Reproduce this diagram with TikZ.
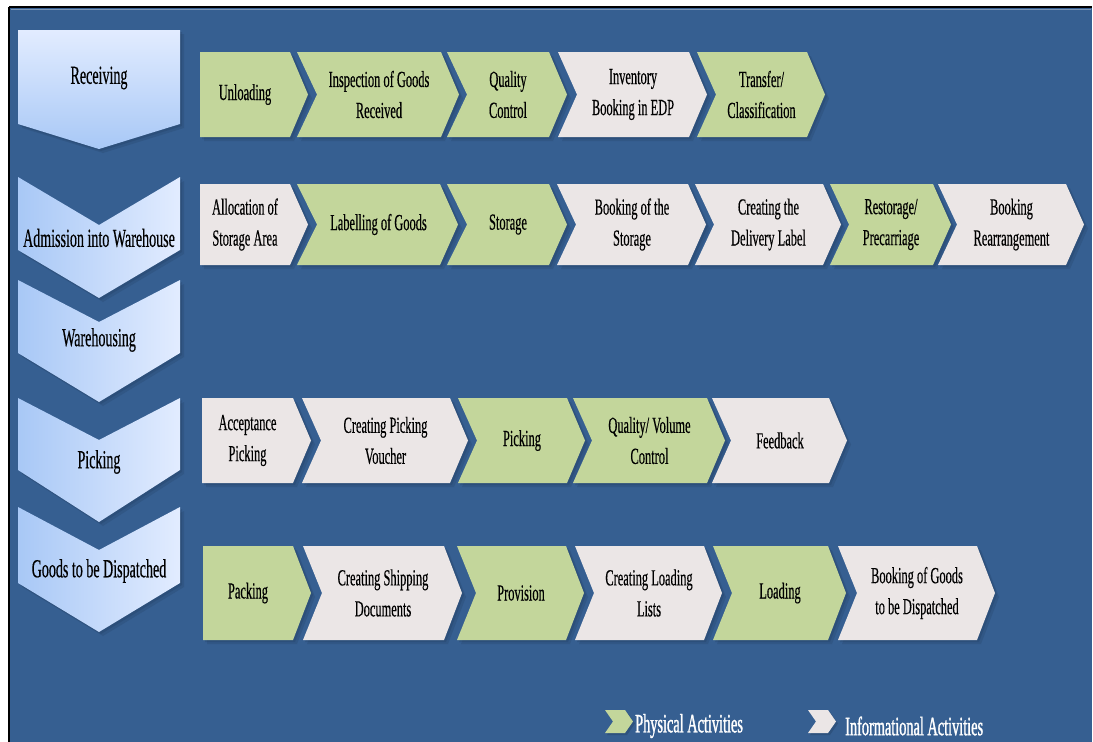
\documentclass[tikz,border=0pt]{standalone}
\usepackage{fontspec}
\setmainfont{Liberation Serif}[FakeStretch=0.54,FakeBold=0.35]
\newfontfamily\legendfont{Liberation Serif}[FakeStretch=0.54,FakeBold=1.1]

\definecolor{panelblue}{RGB}{54,95,145}
\definecolor{physgreen}{RGB}{195,214,155}
\definecolor{infogray}{RGB}{235,230,230}
\definecolor{stageleft}{RGB}{168,200,246}
\definecolor{stageright}{RGB}{226,236,255}
\definecolor{shadowblue}{RGB}{28,52,84}

\tikzset{
  rowtext/.style={inner sep=0pt, align=center, text=black,
    font=\fontsize{23}{31}\selectfont},
  stagetext/.style={inner sep=0pt, align=center, text=black,
    font=\fontsize{26}{31}\selectfont},
  legendtext/.style={inner sep=0pt, anchor=west, text=white,
    font=\legendfont\fontsize{26.5}{28}\selectfont},
  stagefill/.style={left color=stageleft, right color=stageright},
}

% Horizontal activity chevron:
% #1 node name, #2 fill colour, #3 left x, #4 right x of flat part,
% #5 top y, #6 bottom y, #7 notch depth (0 = flat back), #8 label
\newcommand\activity[8]{%
  \pgfmathsetmacro\actmid{(#5+#6)/2}%
  \pgfmathsetmacro\acttip{#4+18}%
  \pgfmathsetmacro\actnotch{#3+#7}%
  \pgfmathsetmacro\actcx{(#3+#7+#4)/2}%
  \foreach \sh/\op in {2/0.22,4/0.18}{%
    \fill[shadowblue,opacity=\op,shift={(\sh,\sh)}]
      (#3,#5) -- (#4,#5) -- (\acttip,\actmid) -- (#4,#6) -- (#3,#6)
      -- (\actnotch,\actmid) -- cycle;}
  \fill[#2] (#3,#5) -- (#4,#5) -- (\acttip,\actmid) -- (#4,#6) -- (#3,#6)
      -- (\actnotch,\actmid) -- cycle;
  \node[rowtext] (#1) at (\actcx,\actmid) {#8};
}

% Vertical stage chevron: #1 name, #2 top y, #3 notch y, #4 side bottom y,
% #5 tip y, #6 label y, #7 label
\newcommand\stage[7]{%
  \foreach \sh/\op in {2/0.22,4/0.18}{%
    \fill[shadowblue,opacity=\op,shift={(\sh,\sh)}]
      (18,#2) -- (99,#3) -- (180,#2) -- (180,#4) -- (99,#5) -- (18,#4) -- cycle;}
  \shade[stagefill]
      (18,#2) -- (99,#3) -- (180,#2) -- (180,#4) -- (99,#5) -- (18,#4) -- cycle;
  \node[stagetext] (#1) at (99,#6) {#7};
}

\begin{document}
\begin{tikzpicture}[x=1pt,y=-1pt]
\useasboundingbox (0,0) rectangle (1093,742);

% panel
\fill[panelblue] (9,7) rectangle (1092,745);
\draw[black,line width=1.6pt] (9,7) -- (1092,7);
\draw[black,line width=1.6pt] (9,7) -- (9,745);
\draw[white,opacity=0.35,line width=1.2pt] (10.5,9.2) -- (1091,9.2);

% stage column
\foreach \sh/\op in {2/0.22,4/0.18}{%
  \fill[shadowblue,opacity=\op,shift={(\sh,\sh)}]
    (18,30) -- (180,30) -- (180,124) -- (99,149) -- (18,124) -- cycle;}
\shade[top color=stageright, bottom color=stageleft]
    (18,30) -- (180,30) -- (180,124) -- (99,149) -- (18,124) -- cycle;
\node[stagetext] (receiving) at (99,78) {Receiving};
\stage{admission}{177}{225}{250}{298}{238}{Admission into Warehouse}
\stage{warehousing}{280}{322}{353}{402}{340}{Warehousing}
\stage{picking}{398}{440}{470}{522}{462}{Picking}
\stage{dispatch}{507}{550}{583}{632}{571}{Goods to be Dispatched}

% receiving row
\activity{unloading}{physgreen}{200}{290}{52}{137}{0}{Unloading}
\activity{inspection}{physgreen}{297}{441}{52}{137}{20}{Inspection of Goods\\Received}
\activity{quality}{physgreen}{447}{549}{52}{137}{20}{Quality\\Control}
\activity{inventory}{infogray}{558}{689}{52}{137}{19}{Inventory\\Booking in EDP}
\activity{transfer}{physgreen}{697}{807}{52}{137}{19}{Transfer/\\Classification}

% admission row
\activity{allocation}{infogray}{200}{290}{184}{265}{0}{Allocation of\\Storage Area}
\activity{labelling}{physgreen}{297}{440}{184}{265}{20}{Labelling of Goods}
\activity{storage}{physgreen}{447}{549}{184}{265}{20}{Storage}
\activity{bookstorage}{infogray}{557}{688}{184}{265}{19}{Booking of the\\Storage}
\activity{deliverylabel}{infogray}{695}{823}{184}{265}{19}{Creating the\\Delivery Label}
\activity{restorage}{physgreen}{830}{933}{184}{265}{19}{Restorage/\\Precarriage}
\activity{rearrange}{infogray}{938}{1066}{184}{265}{19}{Booking\\Rearrangement}

% picking row
\activity{acceptance}{infogray}{202}{293}{398}{483}{0}{Acceptance\\Picking}
\activity{voucher}{infogray}{302}{450}{398}{483}{19}{Creating Picking\\Voucher}
\activity{pick}{physgreen}{458}{567}{398}{483}{19}{Picking}
\activity{volume}{physgreen}{573}{707}{398}{483}{19}{Quality/ Volume\\Control}
\activity{feedback}{infogray}{712}{829}{398}{483}{19}{Feedback}

% dispatch row
\activity{packing}{physgreen}{203}{293}{546}{640}{0}{Packing}
\activity{shipping}{infogray}{303}{444}{546}{640}{19}{Creating Shipping\\Documents}
\activity{provision}{physgreen}{457}{566}{546}{640}{19}{Provision}
\activity{loadlists}{infogray}{575}{704}{546}{640}{19}{Creating Loading\\Lists}
\activity{loading}{physgreen}{713}{828}{546}{640}{19}{Loading}
\activity{bookdispatch}{infogray}{838}{977}{546}{640}{19}{Booking of Goods\\to be Dispatched}

% legend
\foreach \lx/\lc in {605/physgreen,808/infogray}{%
  \fill[shadowblue,opacity=0.3,shift={(2,2)}]
    (\lx,710) -- (\lx+20,710) -- (\lx+28,721.5) -- (\lx+20,733) -- (\lx,733) -- (\lx+8,721.5) -- cycle;
  \fill[\lc]
    (\lx,710) -- (\lx+20,710) -- (\lx+28,721.5) -- (\lx+20,733) -- (\lx,733) -- (\lx+8,721.5) -- cycle;}
\node[legendtext] (physical) at (635,726) {Physical Activities};
\node[legendtext] (informational) at (845,726) {Informational Activities};
\end{tikzpicture}
\end{document}
